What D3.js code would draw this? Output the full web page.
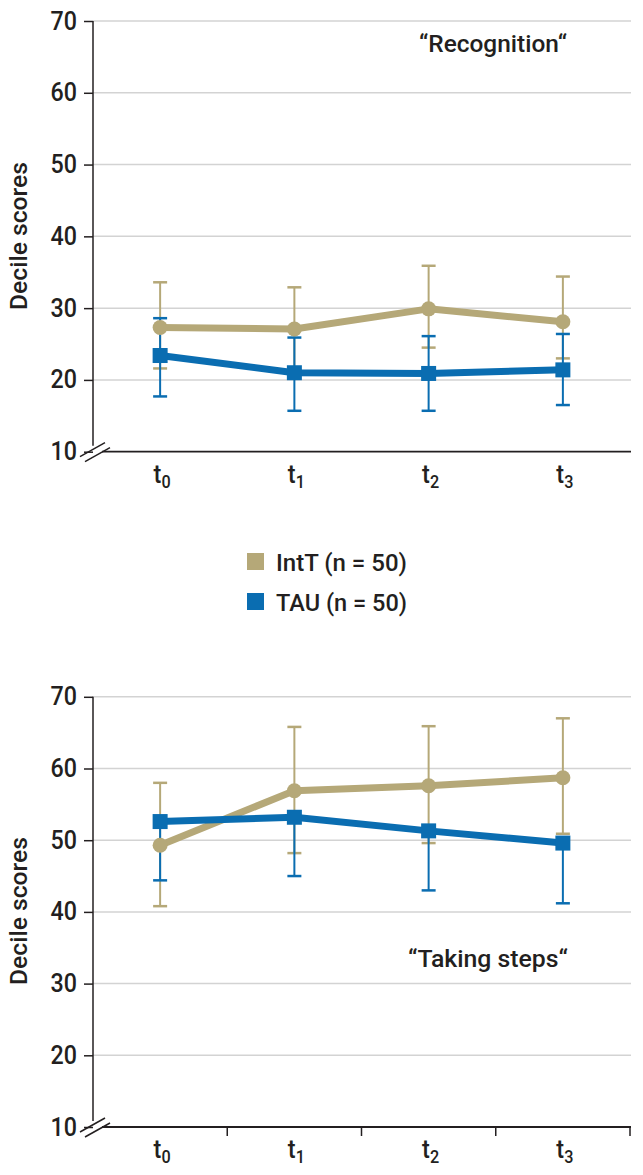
<!DOCTYPE html>
<html><head><meta charset="utf-8">
<script src="https://cdn.jsdelivr.net/npm/d3@7"></script>
<style>
html,body{margin:0;padding:0;background:#fff;}
svg text{font-family:"Roboto","Liberation Sans",sans-serif;font-weight:500;fill:#231f20;}
</style></head>
<body><svg id="c" width="643" height="1175"></svg>
<script>
const categories = ["0","1","2","3"];
const yTicks = [10,20,30,40,50,60,70];
const seriesNames = ["IntT (n = 50)","TAU (n = 50)"];

// "Recognition"
const recIntT = [27.3,27.1,29.9,28.1];
const recIntTUp = [33.6,32.9,35.9,34.4];
const recIntTLo = [21.6,21.4,24.5,23.0];
const recTAU = [23.4,21.0,20.9,21.4];
const recTAUUp = [28.6,25.9,26.1,26.4];
const recTAULo = [17.7,15.7,15.7,16.5];

// "Taking steps"
const stepIntT = [49.3,56.9,57.6,58.7];
const stepIntTUp = [58.0,65.8,65.9,67.0];
const stepIntTLo = [40.8,48.2,49.6,50.9];
const stepTAU = [52.6,53.2,51.3,49.6];
const stepTAUUp = [null,null,null,null];
const stepTAULo = [44.4,45.0,43.0,41.2];

const GOLD="#b5a878", BLUE="#0a6db1", INK="#231f20";
const svg=d3.select("#c");

function squeeze(sel,f,target){
  sel.each(function(){
    const L=this.getComputedTextLength();
    d3.select(this).attr("textLength",target!=null?target:L*f).attr("lengthAdjust","spacingAndGlyphs");
  });
}

function panel(cfg){
  const x=d3.scaleBand().domain(categories).range([93,630]);
  const y=d3.scaleLinear().domain([10,70]).range([cfg.y0,cfg.y1]);
  const g=svg.append("g");
  g.selectAll("line.grid").data(yTicks.filter(v=>v>10)).join("line")
    .attr("x1",93).attr("x2",631).attr("y1",d=>y(d)).attr("y2",d=>y(d))
    .attr("stroke","#d3d3d3").attr("stroke-width",1.5);
  const ya=g.append("g").attr("transform","translate(93,0)")
    .call(d3.axisLeft(y).tickValues(yTicks).tickSize(9).tickPadding(7).tickFormat(d3.format("d")));
  ya.select(".domain").remove();
  ya.selectAll(".tick line").attr("stroke",INK).attr("stroke-width",1.5);
  const tt=ya.selectAll(".tick text").attr("font-size",25).attr("fill",INK)
    .style("font-family",'"Roboto",sans-serif').style("font-weight",500);
  squeeze(tt,0.93);
  g.append("line").attr("x1",93).attr("x2",93).attr("y1",y(70)).attr("y2",y(10)-6)
    .attr("stroke",INK).attr("stroke-width",1.5);
  g.append("line").attr("x1",102).attr("x2",631).attr("y1",y(10)).attr("y2",y(10))
    .attr("stroke",INK).attr("stroke-width",1.8);
  if(cfg.xticks){
    g.selectAll("line.xt").data(categories).join("line")
      .attr("x1",d=>x(d)+x.bandwidth()).attr("x2",d=>x(d)+x.bandwidth())
      .attr("y1",y(10)).attr("y2",y(10)+9).attr("stroke",INK).attr("stroke-width",1.5);
  }
  [0,5].forEach(o=>{
    g.append("line").attr("x1",80+o).attr("y1",y(10)+5+o).attr("x2",105+o).attr("y2",y(10)-9+o)
      .attr("stroke",INK).attr("stroke-width",1.5);
  });
  const xl=g.selectAll("text.xl").data(categories).join("text")
    .attr("x",d=>x(d)+x.bandwidth()/2+2).attr("y",y(10)+31).attr("text-anchor","middle")
    .attr("font-size",26);
  xl.append("tspan").text("t");
  xl.append("tspan").attr("dy",5).attr("font-size",18).text(d=>d);
  xl.each(function(){ d3.select(this).selectAll("tspan").each(function(){
      const L=this.getComputedTextLength();
      d3.select(this).attr("textLength",L*0.9).attr("lengthAdjust","spacingAndGlyphs");
  });});
  const yt=g.append("text").attr("transform",`translate(27,${cfg.titleY}) rotate(-90)`)
    .attr("text-anchor","middle").attr("font-size",24).text("Decile scores");
  squeeze(yt,null,148);
  const an=g.append("text").attr("x",cfg.annX).attr("y",cfg.annY).attr("text-anchor","middle")
    .attr("font-size",24).text(cfg.ann);
  squeeze(an,null,cfg.annW);

  const cx=d=>x(d)+x.bandwidth()/2;
  function errs(vals,up,lo,color){
    categories.forEach((c,i)=>{
      const top = up[i]==null?vals[i]:up[i];
      g.append("line").attr("x1",cx(c)).attr("x2",cx(c)).attr("y1",y(top)).attr("y2",y(lo[i]))
        .attr("stroke",color).attr("stroke-width",2);
      [up[i],lo[i]].forEach(v=>{ if(v==null) return;
        g.append("line").attr("x1",cx(c)-7).attr("x2",cx(c)+7).attr("y1",y(v)).attr("y2",y(v))
          .attr("stroke",color).attr("stroke-width",2.5);
      });
    });
  }
  errs(cfg.a,cfg.aUp,cfg.aLo,GOLD);
  errs(cfg.b,cfg.bUp,cfg.bLo,BLUE);
  const line=d3.line().x((d,i)=>cx(categories[i])).y(d=>y(d));
  g.append("path").attr("d",line(cfg.a)).attr("fill","none").attr("stroke",GOLD).attr("stroke-width",7).attr("stroke-linejoin","round");
  g.append("path").attr("d",line(cfg.b)).attr("fill","none").attr("stroke",BLUE).attr("stroke-width",7).attr("stroke-linejoin","round");
  g.selectAll("circle.m").data(cfg.a).join("circle").attr("cx",(d,i)=>cx(categories[i])).attr("cy",d=>y(d)).attr("r",7.5).attr("fill",GOLD);
  g.selectAll("rect.m").data(cfg.b).join("rect").attr("x",(d,i)=>cx(categories[i])-7.5).attr("y",d=>y(d)-7.5)
    .attr("width",15).attr("height",15).attr("fill",BLUE);
}

panel({y0:451.7,y1:21,xticks:false,titleY:236,ann:"\u201CRecognition\u201C",annX:493,annY:52,annW:148,
  a:recIntT,aUp:recIntTUp,aLo:recIntTLo,b:recTAU,bUp:recTAUUp,bLo:recTAULo});
panel({y0:1127,y1:696.8,xticks:true,titleY:911,ann:"\u201CTaking steps\u201C",annX:488,annY:967,annW:160,
  a:stepIntT,aUp:stepIntTUp,aLo:stepIntTLo,b:stepTAU,bUp:stepTAUUp,bLo:stepTAULo});

const lg=svg.append("g");
[GOLD,BLUE].forEach((col,i)=>{
  lg.append("rect").attr("x",247).attr("y",553+i*40).attr("width",17).attr("height",17).attr("fill",col);
  const t=lg.append("text").attr("x",276).attr("y",571+i*40).attr("font-size",24).text(seriesNames[i]);
  squeeze(t,null,131);
});
</script></body></html>
